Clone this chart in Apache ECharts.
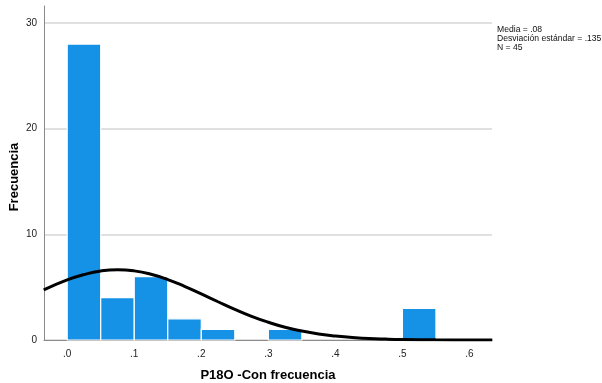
<!DOCTYPE html>
<html>
<head>
<meta charset="utf-8">
<script src="https://cdn.jsdelivr.net/npm/echarts@6/dist/echarts.min.js"></script>
<style>html,body{margin:0;padding:0;background:#fff;}#c{width:602px;height:383px;}</style>
</head>
<body>
<div id="c"></div>
<script>
// Histogram bins (start of each bin), bin width and counts
const binStarts = [0.0, 0.05, 0.10, 0.15, 0.20, 0.30, 0.50];
const binWidth = 0.05;
const counts = [28, 4, 6, 2, 1, 1, 3];
// Normal curve (Media=.08, SD=.135, N=45)
const curveX = [-0.035, 0.0, 0.025, 0.05, 0.075, 0.10, 0.125, 0.15, 0.175, 0.20, 0.225, 0.25, 0.275, 0.30, 0.325, 0.35, 0.375, 0.40, 0.425, 0.45, 0.475, 0.50, 0.55, 0.60, 0.634];
const curveY = [4.74, 5.68, 6.19, 6.53, 6.65, 6.54, 6.22, 5.72, 5.08, 4.36, 3.62, 2.90, 2.24, 1.68, 1.21, 0.85, 0.57, 0.37, 0.24, 0.14, 0.084, 0.048, 0.014, 0.003, 0.001];
const xTicks = [0, 0.1, 0.2, 0.3, 0.4, 0.5, 0.6];
const yTicks = [0, 10, 20, 30];
const statsLines = ['Media = .08', 'Desviación estándar = .135', 'N = 45'];
const titleText = 'P18O -Con frecuencia';
const xName = 'P18O -Con frecuencia';
const yName = 'Frecuencia';

const chart = echarts.init(document.getElementById('c'), null, {renderer: 'canvas'});
const barData = binStarts.map((s, i) => [s, s + binWidth, counts[i]]);
const lineData = curveX.map((x, i) => [x, curveY[i]]);

chart.setOption({
  animation: false,
  backgroundColor: '#fff',
  grid: {left: 44, right: 110, top: 6, bottom: 43, containLabel: false, outerBoundsMode: 'none'},
  xAxis: {
    type: 'value', min: -0.0346, max: 0.6336,
    name: xName, nameLocation: 'middle', nameGap: 29, nameMoveOverlap: false,
    nameTextStyle: {fontFamily: 'Liberation Sans, Arial', fontSize: 13, fontWeight: 'bold', color: '#000'},
    axisLine: {show: true, onZero: false, lineStyle: {color: '#8a8a8a', width: 1}},
    axisTick: {show: false},
    splitLine: {show: false},
    axisLabel: {
      customValues: xTicks, showMinLabel: true, showMaxLabel: true,
      formatter: v => v.toFixed(1).replace(/^0/, ''),
      fontFamily: 'Liberation Sans, Arial', fontSize: 10, color: '#222', margin: 9
    }
  },
  yAxis: {
    type: 'value', min: 0, max: 31.6,
    axisLine: {show: true, onZero: false, lineStyle: {color: '#8a8a8a', width: 1}},
    axisTick: {show: false, customValues: yTicks},
    splitLine: {show: true, lineStyle: {color: '#d6d6d6', width: 1.5}},
    axisLabel: {
      customValues: yTicks,
      fontFamily: 'Liberation Sans, Arial', fontSize: 10, color: '#222', margin: 7
    }
  },
  graphic: [
    {type: 'text', x: 14, y: 177, rotation: Math.PI / 2, style: {text: yName, font: 'bold 13px "Liberation Sans", Arial', fill: '#000', align: 'center', verticalAlign: 'middle'}},
    {type: 'text', left: 497, top: 25, style: {text: statsLines.join('\n'), font: '8.6px "Liberation Sans", Arial', fill: '#111', lineHeight: 9}},
    {type: 'text', left: 262, top: -10, style: {text: titleText, font: 'bold 13px "Liberation Sans", Arial', fill: '#bbb'}}
  ],
  series: [
    {
      type: 'custom',
      data: barData,
      encode: {x: [0, 1], y: 2},
      renderItem: function (params, api) {
        const p0 = api.coord([api.value(0), 0]);
        const p1 = api.coord([api.value(1), api.value(2)]);
        return {
          type: 'rect',
          shape: {x: p0[0], y: p1[1], width: p1[0] - p0[0], height: p0[1] - p1[1]},
          style: {fill: '#1591e6', stroke: '#ffffff', lineWidth: 1.2}
        };
      },
      z: 2
    },
    {
      type: 'line',
      data: lineData,
      smooth: true,
      showSymbol: false,
      lineStyle: {color: '#000', width: 3},
      z: 3
    }
  ]
});
</script>
</body>
</html>
